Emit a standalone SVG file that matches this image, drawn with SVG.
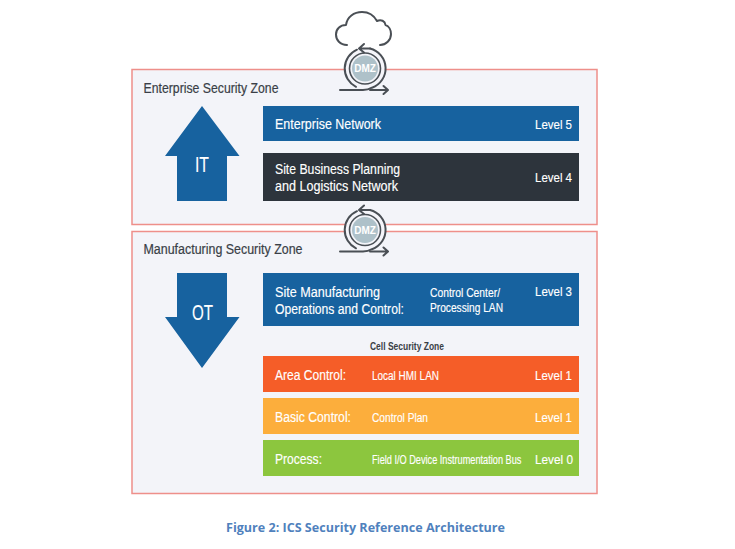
<svg xmlns="http://www.w3.org/2000/svg" width="735" height="549" viewBox="0 0 735 549">
<style>
text{font-family:"Liberation Sans",Arial,sans-serif}
.zone{fill:#f3f4f9;stroke:#ee8f8a;stroke-width:1.5}
.zt{font-size:14px;fill:#3a3f47;stroke:#3a3f47;stroke-width:.2}
.w{fill:#fff;stroke:#fff;stroke-width:.15}
.b{font-size:14px}
.s{font-size:12px}
.l{font-size:13px}
.ln2{fill:none;stroke:#4a4f55;stroke-width:2;stroke-linecap:round;stroke-linejoin:round}
</style>
<defs>
<g id="dmz">
<circle r="20" fill="#f5f5fa"/>
<circle r="15.500" fill="#f3f4f9" stroke="#4a4f55" stroke-width="1.6"/>
<circle r="13" fill="#aec1c9"/>
<path class="ln2" d="M5-20A20.500 20.500 0 0 1 7 19.200Q3 21.500 -2 21.500H-25M-8-18.800A20.500 20.500 0 0 0-9 18.300"/>
<path class="ln2" d="M-1-24.500L-6-20L-1-16M-6-20H5M5 21.500H22.500M18.500 17.500L23 21.500L18.500 25.500"/>
<text y="3.500" text-anchor="middle" font-size="10" font-weight="bold" fill="#fff">DMZ</text>
</g>
</defs>
<rect width="735" height="549" fill="#fff"/>
<g id="enterprise-zone">
<rect class="zone" x="132" y="69.500" width="465" height="155"/>
<text class="zt" x="143.500" y="93" textLength="135" lengthAdjust="spacingAndGlyphs">Enterprise Security Zone</text>
</g>
<g id="manufacturing-zone">
<rect class="zone" x="132" y="231.500" width="465" height="262"/>
<text class="zt" x="143.500" y="254" textLength="159" lengthAdjust="spacingAndGlyphs">Manufacturing Security Zone</text>
</g>
<g id="cloud">
<path class="ln2" d="M347 45C340 45 336 40 336 34.500C336 29 340 25 346 25C347 17 354 12 362 12C369 12 374 15.500 377 21C381 19 385 21 385.500 25C389 26 391 30 391 34C391 40 386 45 380 45"/>
</g>
<g id="dmz-top"><use href="#dmz" x="365" y="68.500"/></g>
<g id="dmz-bottom"><use href="#dmz" x="365" y="230"/></g>
<g id="it-arrow">
<path d="M202 106L239.500 156H227V201H177V156H165Z" fill="#17629f"/>
<text x="195" y="172" class="w" font-size="22" textLength="14" lengthAdjust="spacingAndGlyphs">IT</text>
</g>
<g id="ot-arrow">
<path d="M177 273H227V317H239.500L202 368L165 317H177Z" fill="#17629f"/>
<text x="192" y="320" class="w" font-size="22" textLength="21" lengthAdjust="spacingAndGlyphs">OT</text>
</g>
<g id="enterprise-network">
<rect x="263" y="106" width="316" height="35" fill="#17629f"/>
<text class="w b" x="275" y="129" textLength="106" lengthAdjust="spacingAndGlyphs">Enterprise Network</text>
<text class="w l" x="535" y="129" textLength="37" lengthAdjust="spacingAndGlyphs">Level 5</text>
</g>
<g id="site-business">
<rect x="263" y="153" width="316" height="48" fill="#2d343c"/>
<text class="w b" x="275" y="174" textLength="125" lengthAdjust="spacingAndGlyphs">Site Business Planning</text>
<text class="w b" x="275" y="191" textLength="123" lengthAdjust="spacingAndGlyphs">and Logistics Network</text>
<text class="w l" x="535" y="182" textLength="37" lengthAdjust="spacingAndGlyphs">Level 4</text>
</g>
<g id="site-manufacturing">
<rect x="263" y="273" width="316" height="53" fill="#17629f"/>
<text class="w b" x="275" y="297" textLength="105" lengthAdjust="spacingAndGlyphs">Site Manufacturing</text>
<text class="w b" x="275" y="314" textLength="129" lengthAdjust="spacingAndGlyphs">Operations and Control:</text>
<text class="w s" x="430" y="297" textLength="70" lengthAdjust="spacingAndGlyphs">Control Center/</text>
<text class="w s" x="430" y="312" textLength="73" lengthAdjust="spacingAndGlyphs">Processing LAN</text>
<text class="w l" x="535" y="296" textLength="37" lengthAdjust="spacingAndGlyphs">Level 3</text>
</g>
<g id="cell-zone-label">
<text x="370" y="350" font-size="10" font-weight="bold" fill="#3a3f47" textLength="74" lengthAdjust="spacingAndGlyphs">Cell Security Zone</text>
</g>
<g id="area-control">
<rect x="263" y="356" width="316" height="36" fill="#f55d28"/>
<text class="w b" x="275" y="380" textLength="71" lengthAdjust="spacingAndGlyphs">Area Control:</text>
<text class="w s" x="372" y="380" textLength="67" lengthAdjust="spacingAndGlyphs">Local HMI LAN</text>
<text class="w l" x="535" y="380" textLength="37" lengthAdjust="spacingAndGlyphs">Level 1</text>
</g>
<g id="basic-control">
<rect x="263" y="398" width="316" height="36" fill="#fcae3c"/>
<text class="w b" x="275" y="422" textLength="76" lengthAdjust="spacingAndGlyphs">Basic Control:</text>
<text class="w s" x="372" y="422" textLength="56" lengthAdjust="spacingAndGlyphs">Control Plan</text>
<text class="w l" x="535" y="422" textLength="37" lengthAdjust="spacingAndGlyphs">Level 1</text>
</g>
<g id="process">
<rect x="263" y="440" width="316" height="36" fill="#8cc63e"/>
<text class="w b" x="275" y="464" textLength="47" lengthAdjust="spacingAndGlyphs">Process:</text>
<text class="w s" transform="translate(372 464) scale(.765 1)">Field I/O Device Instrumentation Bus</text>
<text class="w l" x="535" y="464" textLength="38" lengthAdjust="spacingAndGlyphs">Level 0</text>
</g>
<g id="caption">
<text x="226" y="532" font-size="12.500" font-weight="bold" fill="#4f81bd" style="font-family:'Open Sans','Liberation Sans',sans-serif" textLength="279" lengthAdjust="spacingAndGlyphs">Figure 2: ICS Security Reference Architecture</text>
</g>
</svg>
